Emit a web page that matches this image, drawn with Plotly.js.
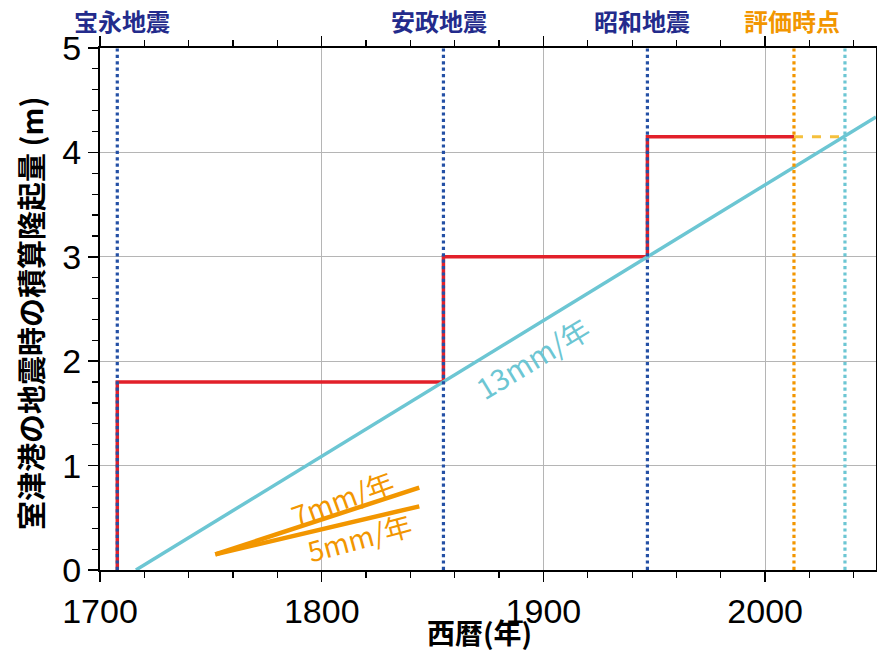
<!DOCTYPE html>
<html><head><meta charset="utf-8">
<script src="https://cdn.plot.ly/plotly-3.0.1.min.js"></script>
<style>html,body{margin:0;padding:0;background:#fff}</style>
</head><body><div id="chart" style="width:877px;height:652px"></div>
<script>
// Earthquake years
const quakeNames = ['宝永地震', '安政地震', '昭和地震'];
const quakeYears = [1707.8, 1854.9, 1946.9];
const evalYear = 2013;
const crossYear = 2036;
// Cumulative uplift (m) step
const stepX = [1707.8, 1707.8, 1854.9, 1854.9, 1946.9, 1946.9, 2013];
const stepY = [0, 1.8, 1.8, 3.0, 3.0, 4.15, 4.15];
const dashX = [2013, 2036];
const dashY = [4.15, 4.15];
// 13mm/yr line
const rate13X = [1716.2, 2050];
const rate13Y = [0, 4.34];
// 7mm/yr and 5mm/yr reference lines
const rate7X = [1752, 1844];
const rate7Y = [0.15, 0.79];
const rate5X = [1752, 1844];
const rate5Y = [0.15, 0.61];
const xTickVals = [1700, 1800, 1900, 2000];
const yTickVals = [0, 1, 2, 3, 4, 5];

const navy = '#232b8c', blue = '#2450a5', red = '#e2202a', cyan = '#6cc6d3', orange = '#f29600', yellow = '#f5c03c';
const jp = '"Noto Sans CJK JP", "Noto Sans", sans-serif';
const num = '"Liberation Sans", Arial, sans-serif';

const traces = [];
traces.push({x: stepX, y: stepY, mode: 'lines', line: {color: red, width: 3.5}, hoverinfo: 'skip'});
traces.push({x: dashX, y: dashY, mode: 'lines', line: {color: yellow, width: 3, dash: 'dash'}, hoverinfo: 'skip'});
traces.push({x: rate13X, y: rate13Y, mode: 'lines', line: {color: cyan, width: 3.5}, hoverinfo: 'skip'});
traces.push({x: rate7X, y: rate7Y, mode: 'lines', line: {color: orange, width: 4.5}, hoverinfo: 'skip'});
traces.push({x: rate5X, y: rate5Y, mode: 'lines', line: {color: orange, width: 4.5}, hoverinfo: 'skip'});
quakeYears.forEach(q => traces.push({x: [q, q], y: [0, 5], mode: 'lines', line: {color: blue, width: 3.2, dash: 'dot'}, hoverinfo: 'skip'}));
traces.push({x: [evalYear, evalYear], y: [0, 5], mode: 'lines', line: {color: orange, width: 3.2, dash: 'dot'}, hoverinfo: 'skip'});
traces.push({x: [crossYear, crossYear], y: [0, 5], mode: 'lines', line: {color: cyan, width: 3.2, dash: 'dot'}, hoverinfo: 'skip'});

const annotations = [];
const nameX = [1710, 1853, 1944.6];
quakeNames.forEach((n, i) => annotations.push({x: nameX[i], y: 1.053, xref: 'x', yref: 'paper', yanchor: 'middle', text: n, showarrow: false, font: {family: jp, size: 24, color: navy, weight: 'bold'}}));
annotations.push({x: 2012, y: 1.053, xref: 'x', yref: 'paper', yanchor: 'middle', text: '評価時点', showarrow: false, font: {family: jp, size: 24, color: orange, weight: 'bold'}});
annotations.push({x: 1895, y: 2.04, text: '13mm/年', showarrow: false, textangle: -31, font: {family: jp, size: 29, color: cyan}});
annotations.push({x: 1809, y: 0.69, text: '7mm/年', showarrow: false, textangle: -20, font: {family: jp, size: 28, color: orange}});
annotations.push({x: 1817, y: 0.32, text: '5mm/年', showarrow: false, textangle: -15, font: {family: jp, size: 28, color: orange}});
// axis titles
annotations.push({x: 479, y: 632, xref: 'paper', yref: 'paper', text: '西暦(年)', showarrow: false, font: {family: jp, size: 28, color: '#000', weight: 'bold'}});
annotations.push({x: 30, y: 314, xref: 'paper', yref: 'paper', text: '室津港の地震時の積算隆起量 (m)', showarrow: false, textangle: -90, font: {family: jp, size: 29, color: '#000', weight: 'bold'}});

// convert pixel-positioned titles to paper coords
const L = 100, R = 1, T = 48, B = 82, W = 877, H = 652;
const pw = W - L - R, ph = H - T - B;
annotations.slice(-2).forEach(a => { a.x = (a.x - L) / pw; a.y = (H - B - a.y) / ph; a.xanchor = 'center'; a.yanchor = 'middle'; });

const layout = {
  width: W, height: H,
  margin: {l: L, r: R, t: T, b: B},
  paper_bgcolor: '#fff', plot_bgcolor: '#fff',
  showlegend: false,
  xaxis: {
    range: [1700, 2050], tickvals: xTickVals, ticktext: xTickVals.map(String),
    showline: true, linecolor: '#000', linewidth: 2, mirror: 'allticks',
    ticks: 'outside', ticklen: 10, tickwidth: 1.5, tickcolor: '#000',
    minor: {dtick: 20, tick0: 1700, ticks: 'outside', ticklen: 6, tickwidth: 1.2, tickcolor: '#000', showgrid: false},
    showgrid: true, gridcolor: '#b5b5b5', gridwidth: 1, zeroline: false,
    tickfont: {family: num, size: 34, color: '#000'}
  },
  yaxis: {
    range: [0, 5], tickvals: yTickVals, ticktext: yTickVals.map(String),
    showline: true, linecolor: '#000', linewidth: 2, mirror: 'allticks',
    ticks: 'outside', ticklen: 10, tickwidth: 1.5, tickcolor: '#000',
    minor: {dtick: 0.2, tick0: 0, ticks: 'outside', ticklen: 6, tickwidth: 1.2, tickcolor: '#000', showgrid: false},
    showgrid: true, gridcolor: '#b5b5b5', gridwidth: 1, zeroline: false,
    tickfont: {family: num, size: 34, color: '#000'}
  },
  annotations: annotations
};
Plotly.newPlot('chart', traces, layout, {staticPlot: true});
</script></body></html>
